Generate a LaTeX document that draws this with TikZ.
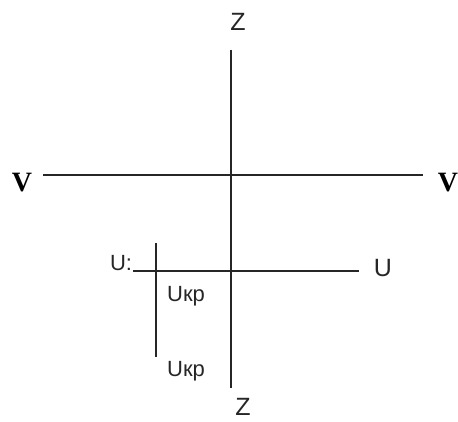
\documentclass[tikz,border=0pt]{standalone}
\usepackage{fontspec}
\setmainfont{Liberation Sans}
\newfontfamily\serifbold{Liberation Serif}
\begin{document}
\begin{tikzpicture}[x=1pt,y=-1pt,
  axis/.style={line width=1.8pt, draw=black!85},
  lbl/.style={inner sep=0pt, font=\fontsize{25}{25}\selectfont, text=black!85},
  small/.style={inner sep=0pt, font=\fontsize{22}{22}\selectfont, text=black!85},
  vlbl/.style={inner sep=0pt, font=\serifbold\bfseries\fontsize{28}{28}\selectfont}]
\useasboundingbox (0,0) rectangle (458,421);
% main axes
\coordinate (zt) at (231,50);
\coordinate (zb) at (231,388);
\coordinate (vl) at (43,175);
\coordinate (vr) at (423,175);
\draw[axis] (zt) -- (zb);
\draw[axis] (vl) -- (vr);
% U line
\coordinate (ul) at (133,271);
\coordinate (ur) at (359,271);
\draw[axis] (ul) -- (ur);
% short vertical
\coordinate (st) at (156,243);
\coordinate (sb) at (156,357);
\draw[axis] (st) -- (sb);
% labels
\node[lbl] (Ztop) at (238,22) {Z};
\node[lbl] (Zbot) at (243,407) {Z};
\node[vlbl] (Vl) at (22,183) {V};
\node[vlbl] (Vr) at (448,183) {V};
\node[lbl] (Ur) at (383,268) {U};
\node[small] (Ul) at (121,263) {U:};
\node[small] (Ukp1) at (186,296) {Uкр};
\node[small] (Ukp2) at (186,371) {Uкр};
\end{tikzpicture}
\end{document}
